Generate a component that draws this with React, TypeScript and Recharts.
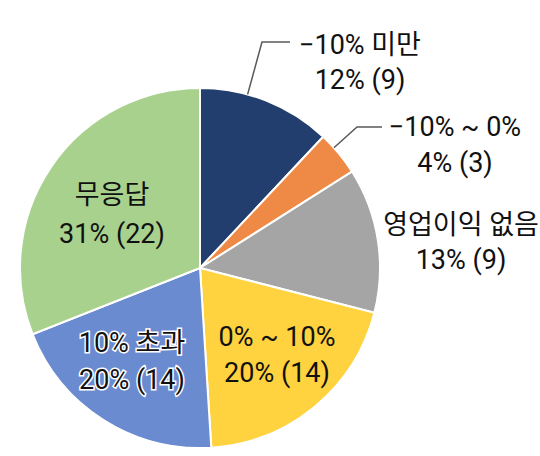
import { PieChart, Pie, Cell } from 'recharts';

const categories = ['−10% 미만', '−10% ~ 0%', '영업이익 없음', '0% ~ 10%', '10% 초과', '무응답'];
const shares = [12, 4, 13, 20, 20, 31];
const counts = [9, 3, 9, 14, 14, 22];
const colors = ['#223E6E', '#EE8A45', '#A5A5A5', '#FFD23F', '#6A8BCF', '#A9D18E'];

// label placement relative to pie centre (line 1 / line 2 centres, optional leader elbow + end)
const labelLayout = [
  { x: 160, y1: -223, y2: -188, elbow: [62, -226], end: [90, -226], halo: false },
  { x: 255, y1: -141, y2: -105, elbow: [157, -141], end: [182, -141], halo: false },
  { x: 261, y1: -43, y2: -8, halo: false },
  { x: 77, y1: 69, y2: 105, halo: false },
  { x: -68, y1: 75, y2: 112, halo: true },
  { x: -88, y1: -73, y2: -34, halo: false },
];

const FONT = "Roboto, 'Noto Sans CJK KR', sans-serif";

const chartData = categories.map((name, i) => ({ name, value: shares[i], count: counts[i] }));

function renderLabel(props: any) {
  const { cx, cy, outerRadius, index } = props;
  const l = labelLayout[index];
  const lines = [categories[index], `${shares[index]}% (${counts[index]})`];
  let leader = null;
  if (l.elbow) {
    const ex = cx + l.elbow[0];
    const ey = cy + l.elbow[1];
    const a = Math.atan2(l.elbow[1], l.elbow[0]);
    const sx = cx + outerRadius * Math.cos(a);
    const sy = cy + outerRadius * Math.sin(a);
    leader = (
      <polyline
        points={`${sx},${sy} ${ex},${ey} ${cx + l.end[0]},${cy + l.end[1]}`}
        fill="none"
        stroke="#595959"
        strokeWidth={1.5}
      />
    );
  }
  const halo = l.halo ? { stroke: '#ffffff', strokeWidth: 3, paintOrder: 'stroke' as const } : {};
  return (
    <g>
      {leader}
      {lines.map((t, k) => (
        <text
          key={k}
          x={cx + l.x}
          y={cy + (k === 0 ? l.y1 : l.y2)}
          textAnchor="middle"
          dominantBaseline="central"
          fontFamily={FONT}
          fontSize={27}
          fill="#111111"
          {...halo}
        >
          {t}
        </text>
      ))}
    </g>
  );
}

export default function App() {
  return (
    <div style={{ position: 'absolute', left: 0, top: 0, width: 540, height: 456, background: '#ffffff' }}>
      <PieChart width={540} height={456}>
        <Pie
          data={chartData}
          dataKey="value"
          nameKey="name"
          cx={195}
          cy={263}
          outerRadius={180}
          startAngle={90}
          endAngle={-270}
          stroke="#ffffff"
          strokeWidth={2}
          label={renderLabel}
          labelLine={false}
          isAnimationActive={false}
        >
          {chartData.map((_, i) => (
            <Cell key={i} fill={colors[i]} />
          ))}
        </Pie>
      </PieChart>
    </div>
  );
}
